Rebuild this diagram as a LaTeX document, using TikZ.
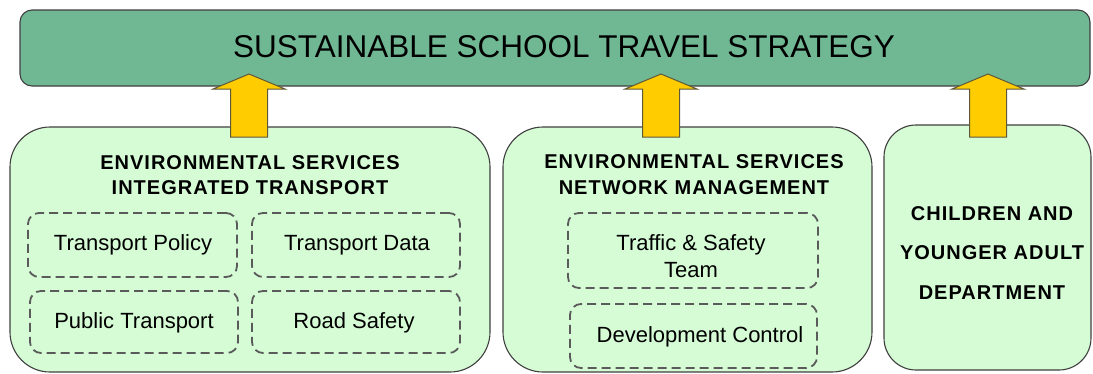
\documentclass[tikz,border=0pt]{standalone}
\usepackage{fontspec}
\setmainfont{Liberation Sans}
\definecolor{barfill}{HTML}{70B894}
\definecolor{boxfill}{HTML}{D5FCD5}
\definecolor{arrowfill}{HTML}{FFCC00}
\definecolor{edgec}{HTML}{3F3F3F}
\definecolor{dashc}{HTML}{5A5A5A}
\definecolor{arrowedge}{HTML}{5F5838}
\begin{document}
\begin{tikzpicture}[x=1pt,y=-1pt,
  barbox/.style={draw=edgec, line width=1.1pt, fill=barfill, rounded corners=12pt, inner sep=0pt},
  bigbox/.style={draw=edgec, line width=1.1pt, fill=boxfill, rounded corners=40pt, inner sep=0pt},
  dashbox/.style={draw=dashc, line width=1.8pt, dash pattern=on 9pt off 5pt, rounded corners=11pt, inner sep=0pt},
  titletext/.style={font=\fontsize{31.5}{36}\selectfont, inner sep=0pt},
  headtext/.style={font=\fontsize{20}{25.5}\selectfont\bfseries\addfontfeature{LetterSpace=5}, align=center, inner sep=0pt},
  depttext/.style={font=\fontsize{20}{39.5}\selectfont\bfseries\addfontfeature{LetterSpace=5}, align=center, inner sep=0pt},
  teamtext/.style={font=\fontsize{22}{27}\selectfont, align=center, inner sep=0pt},
  blockarrow/.style={draw=arrowedge, line width=1pt, fill=arrowfill, line join=miter}
]
\useasboundingbox (0,0) rectangle (1093,373);

% top bar
\node[barbox, minimum width=1070pt, minimum height=76pt] (bar) at (555,48) {};
\node[titletext] (title) at (564,47) {SUSTAINABLE SCHOOL TRAVEL STRATEGY};

% big boxes
\node[bigbox, minimum width=480pt, minimum height=245pt] (left) at (250,249.5) {};
\node[bigbox, minimum width=369pt, minimum height=245pt] (mid) at (687.5,249.5) {};
\node[bigbox, rounded corners=32pt, minimum width=207pt, minimum height=245pt] (right) at (987.5,247.5) {};

% headings
\node[headtext] (lefthead) at (250,175) {ENVIRONMENTAL SERVICES\\INTEGRATED TRANSPORT};
\node[headtext] (midhead) at (694,174.5) {ENVIRONMENTAL SERVICES\\NETWORK MANAGEMENT};
\node[depttext] (righthead) at (992,253) {CHILDREN AND\\YOUNGER ADULT\\DEPARTMENT};

% left dashed boxes
\node[dashbox, minimum width=209pt, minimum height=64pt] (tpolicy) at (132.5,245) {};
\node[dashbox, minimum width=208pt, minimum height=64pt] (tdata) at (356,245) {};
\node[dashbox, minimum width=208pt, minimum height=62pt] (ptrans) at (134,322) {};
\node[dashbox, minimum width=208pt, minimum height=62pt] (rsafety) at (356,322) {};
\node[teamtext] (tpolicyt) at (133,245) {Transport Policy};
\node[teamtext] (tdatat) at (357,245) {Transport Data};
\node[teamtext] (ptranst) at (134,323) {Public Transport};
\node[teamtext] (rsafetyt) at (354,323) {Road Safety};

% middle dashed boxes
\node[dashbox, minimum width=250pt, minimum height=75pt] (traffic) at (693,250.5) {};
\node[dashbox, minimum width=247pt, minimum height=64pt] (devc) at (693.5,336) {};
\node[teamtext] (traffict) at (691,256.5) {Traffic \& Safety\\Team};
\node[teamtext] (devct) at (700,337) {Development Control};

% block arrows from boxes up to the bar
\coordinate (a1) at (249,137);
\coordinate (a2) at (661,137);
\coordinate (a3) at (988,137);
\foreach \c in {a1,a2,a3}{
  \draw[blockarrow, shift={(\c)}] (-18.5,0) -- (-18.5,-48) -- (-36,-48) -- (0,-63) -- (36,-48) -- (18.5,-48) -- (18.5,0) -- cycle;
}
\end{tikzpicture}
\end{document}
